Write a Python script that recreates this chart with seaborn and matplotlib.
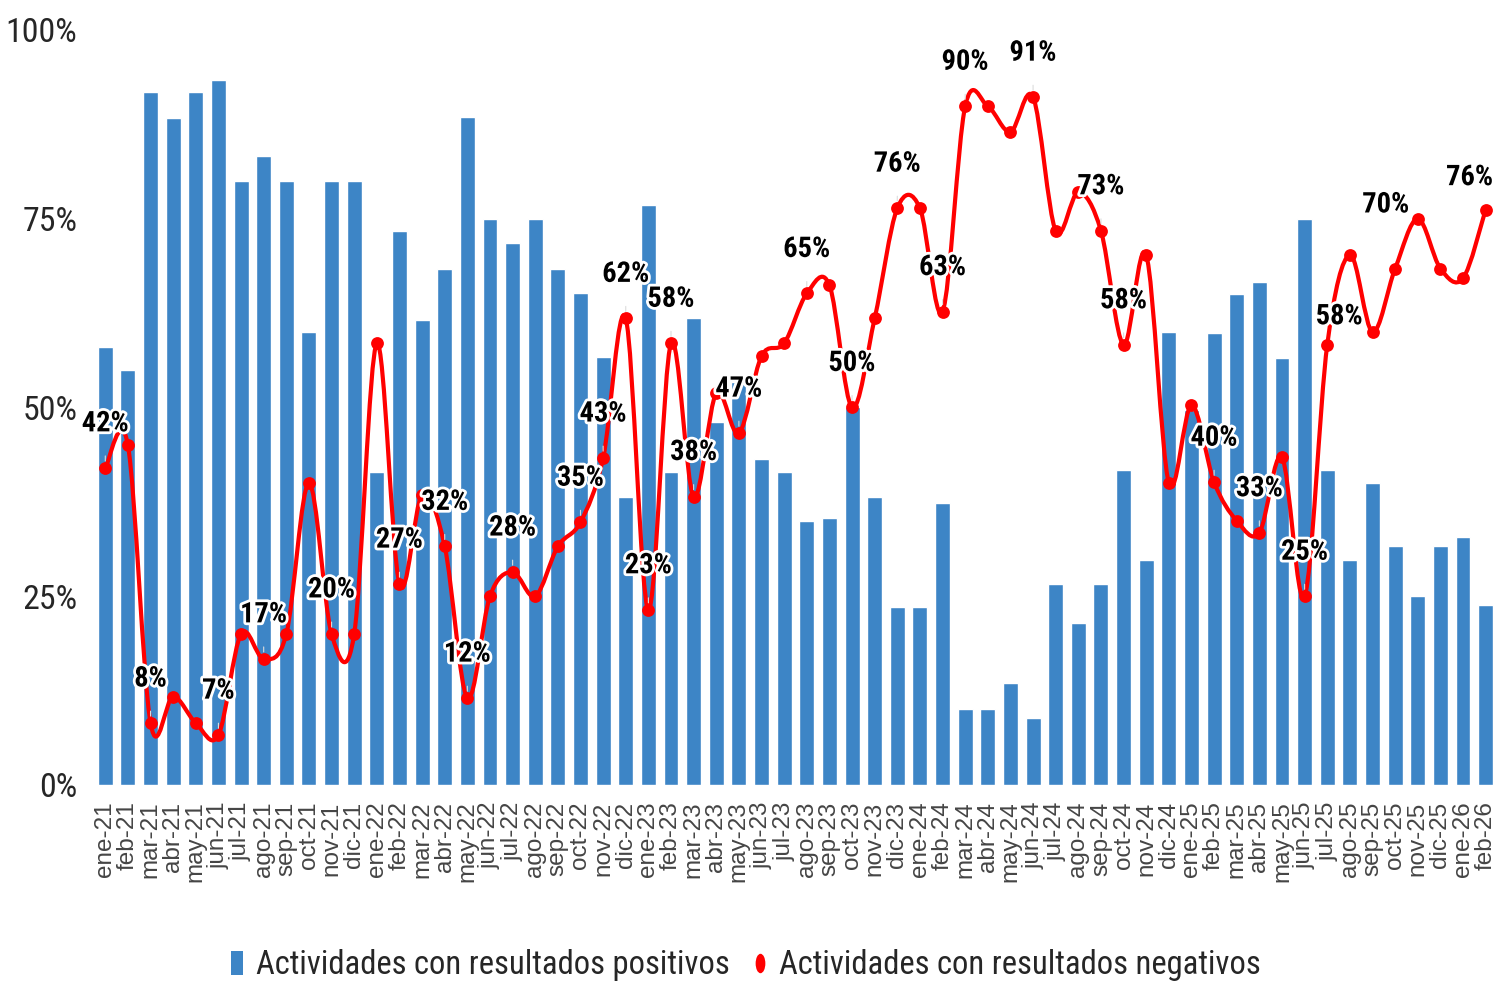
import numpy as np
import pandas as pd
import matplotlib
matplotlib.use("Agg")
import matplotlib.pyplot as plt
import seaborn as sns
from matplotlib.path import Path
from matplotlib.patches import PathPatch
from matplotlib.lines import Line2D
from matplotlib.transforms import Affine2D
import matplotlib.patheffects as pe
from matplotlib import font_manager

# ---------------- data ----------------
months = [
    "ene-21", "feb-21", "mar-21", "abr-21", "may-21", "jun-21", "jul-21", "ago-21", "sep-21", "oct-21", "nov-21", "dic-21",
    "ene-22", "feb-22", "mar-22", "abr-22", "may-22", "jun-22", "jul-22", "ago-22", "sep-22", "oct-22", "nov-22", "dic-22",
    "ene-23", "feb-23", "mar-23", "abr-23", "may-23", "jun-23", "jul-23", "ago-23", "sep-23", "oct-23", "nov-23", "dic-23",
    "ene-24", "feb-24", "mar-24", "abr-24", "may-24", "jun-24", "jul-24", "ago-24", "sep-24", "oct-24", "nov-24", "dic-24",
    "ene-25", "feb-25", "mar-25", "abr-25", "may-25", "jun-25", "jul-25", "ago-25", "sep-25", "oct-25", "nov-25", "dic-25",
    "ene-26", "feb-26",
]

positivos = [
    58.0, 55.0, 91.8, 88.3, 91.8, 93.4, 80.0, 83.3, 80.0, 60.0, 80.0, 80.0,
    41.5, 73.4, 61.6, 68.4, 88.5, 75.0, 71.8, 75.0, 68.4, 65.2, 56.7, 38.2,
    76.8, 41.5, 61.8, 48.1, 53.4, 43.2, 41.5, 34.9, 35.4, 50.0, 38.2, 23.6,
    23.6, 37.3, 10.1, 10.1, 13.5, 8.9, 26.6, 21.5, 26.6, 41.7, 29.8, 60.0,
    49.7, 59.9, 65.0, 66.6, 56.6, 75.0, 41.7, 29.8, 40.0, 31.6, 25.0, 31.6,
    32.9, 23.8,
]

negativos = [
    42.0, 45.0, 8.2, 11.7, 8.2, 6.6, 20.0, 16.7, 20.0, 40.0, 20.0, 20.0,
    58.5, 26.6, 38.4, 31.6, 11.5, 25.0, 28.2, 25.0, 31.6, 34.8, 43.3, 61.8,
    23.2, 58.5, 38.2, 51.9, 46.6, 56.8, 58.5, 65.1, 66.2, 50.0, 61.8, 76.4,
    76.4, 62.7, 89.9, 89.9, 86.5, 91.1, 73.4, 78.5, 73.4, 58.3, 70.2, 40.0,
    50.3, 40.1, 35.0, 33.4, 43.4, 25.0, 58.3, 70.2, 60.0, 68.4, 75.0, 68.4,
    67.1, 76.2,
]

# months whose value carries a data label (by month name)
labelled = [
    "ene-21", "mar-21", "jun-21", "ago-21", "nov-21", "feb-22", "abr-22", "may-22", "jul-22",
    "oct-22", "nov-22", "dic-22", "ene-23", "feb-23", "mar-23", "may-23", "ago-23", "oct-23",
    "dic-23", "feb-24", "mar-24", "jun-24", "sep-24", "oct-24", "feb-25", "abr-25", "jun-25",
    "jul-25", "ago-25", "feb-26",
]

legend_labels = ["Actividades con resultados positivos", "Actividades con resultados negativos"]
yticks = [0, 25, 50, 75, 100]

# ---------------- style ----------------
BLUE = "#3D85C6"
RED = "#FF0000"

sns.set_theme(style="white")
avail = {f.name for f in font_manager.fontManager.ttflist}
NARROW = next((f for f in ["Liberation Sans Narrow", "Roboto Condensed", "Open Sans Condensed"] if f in avail),
              "DejaVu Sans")
REG = next((f for f in ["Liberation Sans", "Arial", "Noto Sans"] if f in avail), "DejaVu Sans")
plt.rcParams["font.family"] = [NARROW, "DejaVu Sans"]

# label offsets in pixels (default: straight above the point)
label_offsets = {"jul-25": (12, -28), "ago-25": (36, -50), "feb-26": (-16, -32)}

fig = plt.figure(figsize=(15.06, 9.86), dpi=100)
ax = fig.add_axes([0.0624, 0.2039, 0.9316, 0.7657])

df = pd.DataFrame({"mes": months, "positivos": positivos, "negativos": negativos})

sns.barplot(data=df, x="mes", y="positivos", order=months, color=BLUE, saturation=1,
            width=0.66, ax=ax, zorder=2)

xs = np.arange(len(months), dtype=float)
ys = np.asarray(negativos, dtype=float)


def smooth_path(x, y):
    verts = [(x[0], y[0])]
    codes = [Path.MOVETO]
    n = len(x)
    for i in range(n - 1):
        a = i - 1 if i > 0 else i
        d = i + 2 if i + 2 < n else i + 1
        c1 = (x[i] + (x[i + 1] - x[a]) / 6.0, y[i] + (y[i + 1] - y[a]) / 6.0)
        c2 = (x[i + 1] - (x[d] - x[i]) / 6.0, y[i + 1] - (y[d] - y[i]) / 6.0)
        verts += [c1, c2, (x[i + 1], y[i + 1])]
        codes += [Path.CURVE4] * 3
    return Path(verts, codes)


ax.add_patch(PathPatch(smooth_path(xs, ys), facecolor="none", edgecolor=RED, lw=3.0,
                       zorder=4, capstyle="round", joinstyle="round"))
sns.scatterplot(x=xs, y=ys, color=RED, s=85, edgecolor=RED, linewidth=0, ax=ax, zorder=5, legend=False)

stroke = [pe.withStroke(linewidth=4, foreground="white")]
for m in labelled:
    i = months.index(m)
    dx, dy = label_offsets.get(m, (0, -44))
    arrow = None if m in label_offsets else dict(arrowstyle="-", color="#dcdcdc", lw=0.8, shrinkA=11, shrinkB=5)
    ax.annotate(f"{negativos[i]:.0f}%", xy=(i, negativos[i]), xytext=(dx, -dy),
                textcoords="offset pixels", ha="center", va="center",
                fontsize=20.5, fontweight="bold", color="black", family=[NARROW, "DejaVu Sans"],
                fontstretch="condensed", path_effects=stroke, zorder=7, arrowprops=arrow)

ax.set_ylim(0, 100)
ax.set_xlim(-0.5, len(months) - 0.5)
ax.set_yticks(yticks)
ax.set_yticklabels([f"{v}%" for v in yticks], fontsize=24.5, family=[NARROW, "DejaVu Sans"])
ax.set_xticks(xs)
ax.set_xticklabels(months, rotation=90)
ax.tick_params(axis="y", length=0, pad=12)
ax.tick_params(axis="x", length=0, pad=12)
ax.set_xlabel("")
ax.set_ylabel("")
for s in ax.spines.values():
    s.set_visible(False)
ax.grid(False)

rect_marker = Path([(-0.55, -1), (0.55, -1), (0.55, 1), (-0.55, 1), (-0.55, -1)],
                   [Path.MOVETO, Path.LINETO, Path.LINETO, Path.LINETO, Path.CLOSEPOLY])
ell = Path.unit_circle().transformed(Affine2D().scale(0.5, 1.0))
handles = [
    Line2D([], [], linestyle="none", marker=rect_marker, markersize=17, color=BLUE, markeredgewidth=0),
    Line2D([], [], linestyle="none", marker=ell, markersize=14, color=RED, markeredgewidth=0),
]
fig.legend(handles, legend_labels, loc="center", bbox_to_anchor=(0.494, 0.021), ncol=2, frameon=False,
           prop=dict(family=[NARROW, "DejaVu Sans"], size=23.5), handletextpad=0.3, columnspacing=0.6,
           handlelength=0.6, borderaxespad=0)

fig.canvas.draw()
for t in ax.get_xticklabels():
    t.set_fontfamily([REG, "DejaVu Sans"])
    t.set_fontstretch("normal")
    t.set_fontsize(17.5)
    t.set_color("#454545")

fig.savefig("out.png", dpi=100)
